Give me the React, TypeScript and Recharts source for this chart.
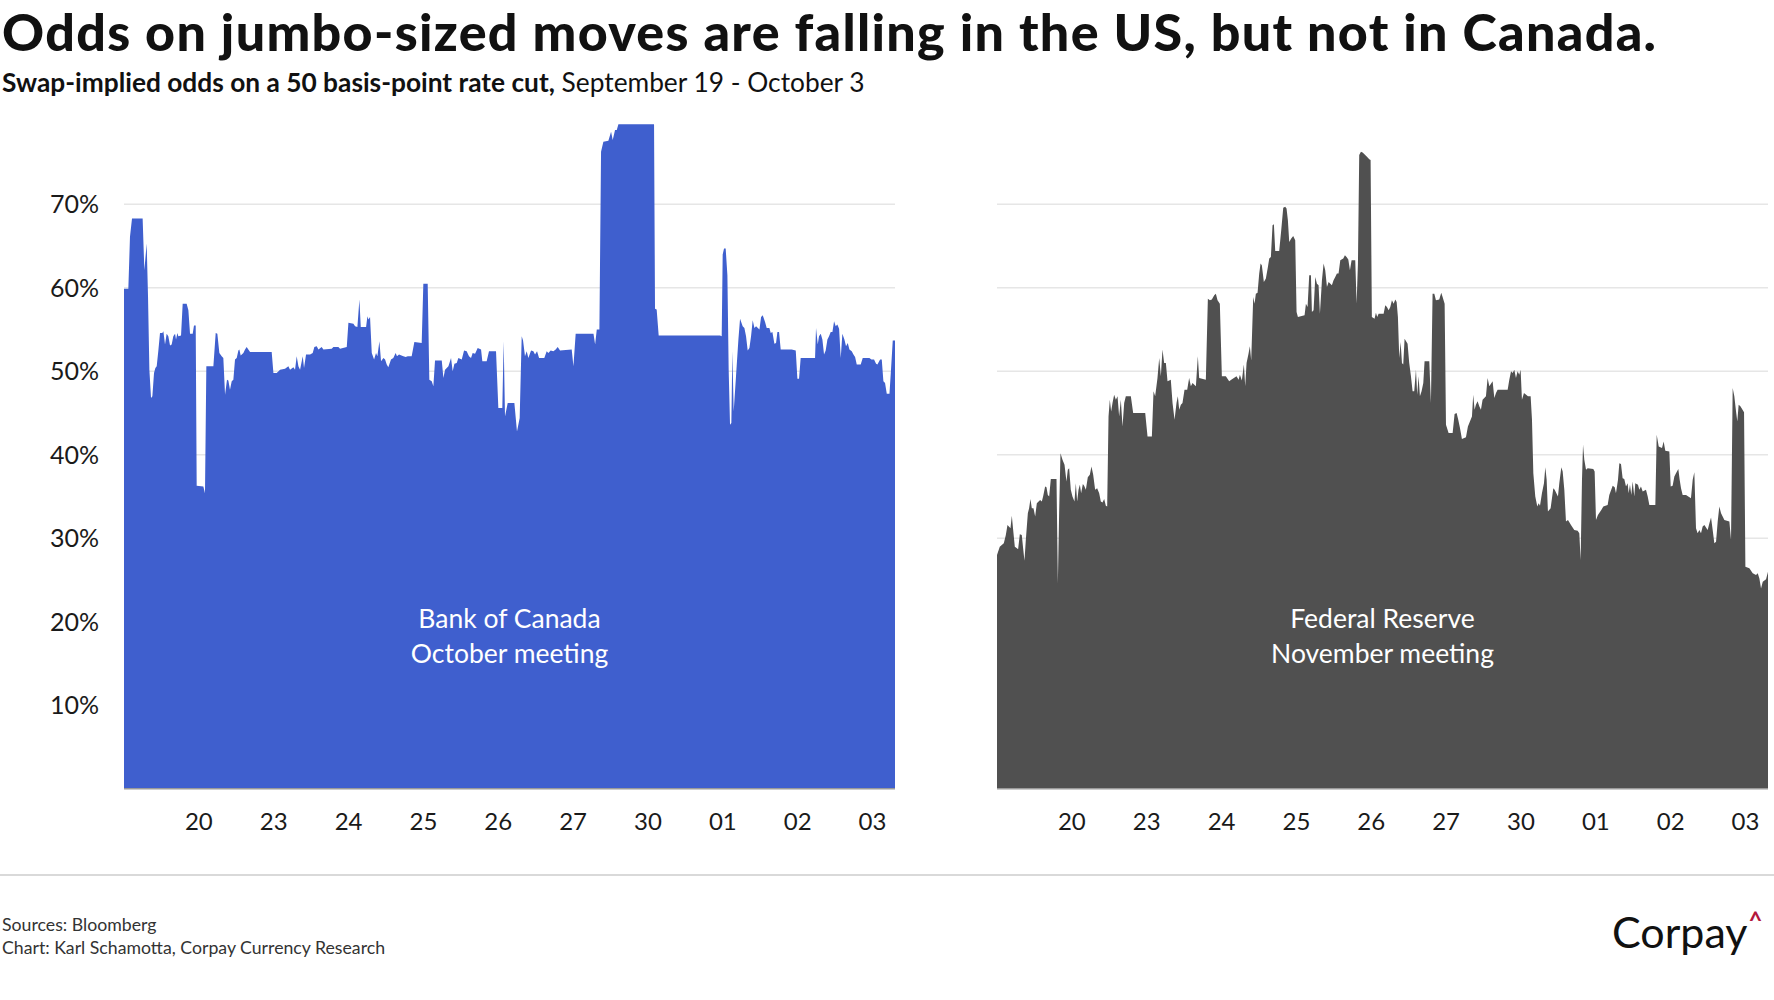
import React from "react";
import { AreaChart, Area, XAxis, YAxis, CartesianGrid } from "recharts";

// x = trading days since the start of Sep 19 (one unit per session)
const DAY_TICKS = [1, 2, 3, 4, 5, 6, 7, 8, 9, 10];
const DAY_LABELS = ["20", "23", "24", "25", "26", "27", "30", "01", "02", "03"];
const PCT_TICKS = [10, 20, 30, 40, 50, 60, 70];

// Bank of Canada, October meeting: [day, odds %]
const BOC_ODDS: [number, number][] = [
  [0, 59.9], [0.058, 59.9], [0.08, 66.1], [0.107, 68.3], [0.249, 68.3], [0.272, 62.1], [0.303, 65.3], [0.321, 58.9],
  [0.339, 50.2], [0.361, 46.8], [0.379, 47.0], [0.401, 49.8], [0.419, 50.4], [0.437, 50.6], [0.459, 52.5], [0.481, 54.6],
  [0.512, 54.6], [0.526, 54.8], [0.548, 53.2], [0.57, 54.5], [0.592, 54.2], [0.615, 53.1], [0.637, 53.2], [0.659, 54.2],
  [0.682, 54.5], [0.695, 53.8], [0.713, 54.6], [0.726, 54.2], [0.762, 54.3], [0.784, 58.1], [0.837, 58.1], [0.86, 57.3],
  [0.882, 54.5], [0.918, 54.5], [0.935, 55.5], [0.958, 55.5], [0.971, 36.3], [1.06, 36.2], [1.082, 35.4], [1.1, 50.6],
  [1.194, 50.6], [1.225, 54.6], [1.247, 54.5], [1.274, 52.2], [1.305, 51.8], [1.327, 51.6], [1.35, 47.2], [1.376, 49.0],
  [1.394, 48.9], [1.416, 47.8], [1.439, 48.8], [1.461, 49.0], [1.483, 51.4], [1.506, 51.6], [1.528, 52.5], [1.541, 52.6],
  [1.559, 51.9], [1.595, 52.2], [1.617, 52.6], [1.639, 52.9], [1.661, 52.6], [1.684, 52.3], [1.973, 52.3], [1.996, 49.8],
  [2.04, 49.8], [2.085, 50.2], [2.151, 50.3], [2.196, 50.6], [2.218, 50.2], [2.263, 50.5], [2.285, 50.2], [2.307, 51.8],
  [2.33, 50.6], [2.352, 50.2], [2.388, 51.8], [2.405, 50.4], [2.432, 52.0], [2.486, 52.0], [2.521, 52.2], [2.543, 52.9],
  [2.575, 53.0], [2.597, 52.6], [2.641, 52.9], [2.664, 52.6], [2.775, 52.7], [2.797, 52.9], [2.864, 52.9], [2.886, 52.7],
  [2.976, 52.9], [2.998, 55.8], [3.065, 55.7], [3.087, 55.4], [3.118, 55.3], [3.145, 58.6], [3.163, 55.3], [3.234, 55.3],
  [3.252, 56.6], [3.265, 56.2], [3.287, 56.5], [3.31, 52.2], [3.341, 51.4], [3.367, 52.2], [3.385, 51.8], [3.412, 53.6],
  [3.434, 51.2], [3.466, 51.6], [3.488, 51.4], [3.51, 50.8], [3.531, 50.5], [3.567, 51.4], [3.598, 51.6], [3.629, 52.2],
  [3.647, 51.8], [3.674, 52.0], [3.732, 51.8], [3.763, 51.7], [3.79, 51.8], [3.843, 51.8], [3.879, 53.5], [3.977, 53.4],
  [3.999, 60.5], [4.057, 60.5], [4.079, 49.0], [4.111, 48.8], [4.133, 48.2], [4.155, 51.3], [4.245, 51.3], [4.267, 49.2],
  [4.289, 50.2], [4.334, 50.6], [4.369, 51.6], [4.391, 50.0], [4.414, 50.9], [4.445, 51.0], [4.467, 51.6], [4.512, 51.4],
  [4.543, 52.5], [4.578, 52.4], [4.609, 51.8], [4.636, 51.6], [4.658, 52.2], [4.69, 52.1], [4.725, 52.8], [4.77, 52.6],
  [4.787, 51.2], [4.845, 51.2], [4.876, 52.4], [4.97, 52.4], [5.001, 45.6], [5.054, 45.6], [5.072, 53.6], [5.09, 44.6],
  [5.126, 46.2], [5.215, 46.2], [5.25, 42.8], [5.286, 44.4], [5.313, 54.2], [5.331, 53.7], [5.357, 51.8], [5.38, 52.4],
  [5.402, 51.6], [5.438, 52.5], [5.469, 52.4], [5.491, 52.0], [5.518, 52.4], [5.545, 51.6], [5.615, 51.6], [5.647, 52.4],
  [5.669, 52.2], [5.7, 52.5], [5.736, 52.4], [5.767, 52.6], [5.794, 52.9], [5.825, 52.5], [5.981, 52.6], [6.004, 50.6],
  [6.034, 54.5], [6.272, 54.5], [6.294, 53.2], [6.316, 55.0], [6.351, 55.0], [6.373, 76.3], [6.404, 77.5], [6.471, 77.6],
  [6.507, 78.7], [6.529, 77.7], [6.56, 78.9], [6.583, 78.9], [6.605, 79.6], [7.081, 79.6], [7.094, 57.5], [7.116, 57.4],
  [7.143, 54.3], [7.962, 54.3], [7.985, 54.2], [7.998, 64.0], [8.016, 64.7], [8.038, 64.7], [8.061, 61.5], [8.078, 50.2],
  [8.096, 43.6], [8.114, 43.8], [8.127, 52.4], [8.145, 45.2], [8.176, 49.4], [8.208, 53.8], [8.23, 56.3], [8.265, 55.4],
  [8.288, 55.2], [8.31, 54.2], [8.332, 52.5], [8.355, 52.8], [8.377, 54.2], [8.399, 56.1], [8.422, 55.2], [8.444, 55.4],
  [8.489, 55.0], [8.511, 56.5], [8.533, 56.7], [8.564, 55.9], [8.586, 55.2], [8.622, 55.2], [8.64, 54.6], [8.662, 54.7],
  [8.689, 53.3], [8.711, 53.4], [8.729, 54.7], [8.751, 54.7], [8.773, 52.6], [8.92, 52.6], [8.974, 52.5], [8.996, 49.1],
  [9.018, 49.1], [9.04, 51.6], [9.232, 51.6], [9.245, 55.2], [9.268, 53.2], [9.285, 54.2], [9.308, 54.5], [9.33, 53.8],
  [9.352, 52.0], [9.374, 52.5], [9.397, 53.8], [9.419, 54.2], [9.441, 54.7], [9.464, 54.7], [9.486, 56.0], [9.508, 55.4],
  [9.53, 55.6], [9.553, 55.1], [9.575, 51.6], [9.597, 54.5], [9.624, 53.8], [9.646, 53.0], [9.669, 53.4], [9.691, 52.6],
  [9.722, 52.4], [9.745, 52.0], [9.767, 51.7], [9.789, 50.8], [9.842, 50.8], [9.869, 51.6], [9.958, 51.6], [9.985, 51.4],
  [10.02, 51.4], [10.047, 50.9], [10.065, 50.8], [10.101, 51.4], [10.123, 51.4], [10.145, 48.8], [10.167, 48.6], [10.19, 47.3],
  [10.226, 47.3], [10.244, 49.8], [10.27, 53.7], [10.3, 53.7],
];

// Federal Reserve, November meeting: [day, odds %]
const FED_ODDS: [number, number][] = [
  [0, 28.0], [0.037, 29.0], [0.064, 29.2], [0.091, 29.4], [0.118, 30.4], [0.14, 31.6], [0.18, 31.2], [0.198, 32.7],
  [0.216, 31.0], [0.238, 29.0], [0.282, 28.7], [0.305, 30.5], [0.331, 30.4], [0.349, 28.8], [0.367, 27.3], [0.385, 29.8],
  [0.412, 33.0], [0.429, 33.6], [0.447, 34.7], [0.465, 33.6], [0.487, 33.6], [0.51, 32.6], [0.532, 34.2], [0.576, 34.6],
  [0.599, 34.4], [0.616, 35.0], [0.643, 36.2], [0.661, 36.1], [0.679, 35.2], [0.697, 35.0], [0.719, 37.1], [0.795, 37.1],
  [0.813, 24.6], [0.83, 33.0], [0.848, 40.2], [0.875, 39.4], [0.902, 38.8], [0.928, 36.8], [0.946, 38.2], [0.964, 38.4],
  [0.986, 35.8], [1.008, 35.0], [1.035, 34.4], [1.053, 36.6], [1.071, 34.4], [1.089, 35.8], [1.107, 36.4], [1.124, 35.4],
  [1.147, 36.5], [1.164, 36.3], [1.187, 35.8], [1.213, 37.3], [1.24, 37.6], [1.262, 38.6], [1.285, 37.6], [1.311, 35.8],
  [1.338, 36.0], [1.365, 35.4], [1.387, 34.4], [1.409, 34.3], [1.432, 34.7], [1.454, 33.9], [1.472, 33.8], [1.49, 44.6],
  [1.507, 46.6], [1.525, 45.2], [1.543, 46.2], [1.565, 47.2], [1.588, 46.6], [1.61, 47.0], [1.632, 44.6], [1.654, 46.6],
  [1.677, 43.4], [1.699, 46.2], [1.721, 47.0], [1.788, 47.0], [1.819, 45.0], [1.98, 45.0], [2.011, 42.2], [2.069, 42.2],
  [2.091, 47.6], [2.113, 47.0], [2.144, 49.2], [2.167, 51.6], [2.189, 49.4], [2.211, 52.6], [2.233, 51.0], [2.256, 51.0],
  [2.278, 48.8], [2.322, 49.0], [2.345, 46.2], [2.372, 44.2], [2.398, 46.2], [2.416, 47.0], [2.434, 45.4], [2.456, 46.0],
  [2.478, 46.2], [2.505, 47.8], [2.541, 47.8], [2.567, 49.2], [2.59, 48.2], [2.612, 48.6], [2.657, 48.2], [2.683, 51.8],
  [2.701, 49.2], [2.79, 49.0], [2.817, 58.7], [2.844, 58.5], [2.87, 58.6], [2.902, 59.1], [2.924, 59.3], [2.946, 58.5],
  [2.977, 58.1], [3.004, 49.4], [3.057, 49.4], [3.102, 48.8], [3.129, 49.0], [3.2, 49.4], [3.227, 49.0], [3.245, 49.6],
  [3.271, 48.9], [3.298, 50.8], [3.316, 48.2], [3.334, 51.0], [3.36, 52.1], [3.378, 53.0], [3.396, 51.3], [3.423, 58.9],
  [3.441, 58.1], [3.458, 59.3], [3.481, 59.4], [3.503, 61.7], [3.521, 62.9], [3.538, 62.7], [3.565, 60.7], [3.592, 61.1],
  [3.619, 62.5], [3.637, 63.5], [3.659, 63.7], [3.681, 67.5], [3.699, 67.6], [3.717, 64.4], [3.77, 64.4], [3.797, 66.9],
  [3.824, 69.6], [3.85, 69.7], [3.868, 69.5], [3.886, 68.1], [3.904, 65.5], [3.931, 65.9], [3.957, 66.2], [3.984, 65.7],
  [4.002, 57.1], [4.02, 56.5], [4.109, 56.7], [4.127, 58.1], [4.149, 57.7], [4.171, 61.5], [4.194, 61.5], [4.207, 57.1],
  [4.229, 57.3], [4.252, 61.3], [4.274, 60.5], [4.296, 60.3], [4.314, 56.9], [4.341, 60.9], [4.363, 62.9], [4.385, 62.1],
  [4.408, 60.1], [4.43, 60.7], [4.474, 60.3], [4.496, 60.9], [4.519, 61.3], [4.541, 61.7], [4.563, 61.7], [4.586, 63.3],
  [4.626, 63.5], [4.648, 63.9], [4.67, 63.7], [4.693, 63.4], [4.715, 62.1], [4.737, 63.3], [4.786, 63.3], [4.804, 58.1],
  [4.822, 62.9], [4.839, 75.9], [4.862, 76.3], [4.884, 76.2], [4.929, 75.8], [4.973, 75.4], [4.991, 75.3], [5.008, 56.5],
  [5.044, 56.3], [5.062, 57.0], [5.08, 56.5], [5.098, 56.9], [5.165, 56.9], [5.187, 57.9], [5.209, 57.7], [5.232, 57.3],
  [5.254, 57.7], [5.276, 58.5], [5.299, 58.1], [5.321, 58.6], [5.339, 58.3], [5.356, 56.5], [5.374, 51.6], [5.392, 53.5],
  [5.41, 51.0], [5.427, 50.8], [5.445, 53.9], [5.485, 53.3], [5.507, 51.0], [5.53, 49.4], [5.552, 47.6], [5.574, 47.6],
  [5.597, 50.2], [5.614, 47.2], [5.632, 49.4], [5.65, 47.0], [5.672, 47.6], [5.695, 48.6], [5.712, 51.2], [5.775, 51.2],
  [5.797, 46.2], [5.819, 59.3], [5.842, 59.3], [5.864, 58.5], [5.908, 58.6], [5.935, 59.4], [5.953, 58.9], [5.98, 58.1],
  [5.998, 43.6], [6.033, 42.6], [6.087, 42.6], [6.113, 44.9], [6.14, 45.0], [6.162, 44.2], [6.185, 43.2], [6.211, 41.9],
  [6.265, 42.1], [6.291, 43.4], [6.318, 44.0], [6.345, 44.6], [6.362, 47.2], [6.38, 45.4], [6.398, 46.0], [6.42, 46.4],
  [6.443, 45.8], [6.465, 45.4], [6.487, 46.6], [6.532, 47.0], [6.554, 49.2], [6.577, 48.2], [6.621, 48.8], [6.644, 46.8],
  [6.666, 47.4], [6.688, 47.8], [6.822, 47.8], [6.844, 49.0], [6.867, 50.0], [6.889, 49.8], [6.911, 50.2], [6.933, 49.2],
  [6.955, 50.0], [6.977, 49.6], [6.995, 50.2], [7.013, 46.6], [7.04, 47.4], [7.093, 47.0], [7.129, 47.0], [7.147, 44.2],
  [7.165, 37.8], [7.191, 35.0], [7.218, 33.8], [7.236, 34.2], [7.254, 33.9], [7.28, 35.4], [7.307, 36.6], [7.325, 38.5],
  [7.343, 37.0], [7.36, 33.2], [7.396, 33.6], [7.414, 34.8], [7.432, 36.0], [7.45, 35.8], [7.494, 35.0], [7.512, 36.6],
  [7.539, 38.5], [7.557, 38.0], [7.579, 35.8], [7.601, 32.0], [7.628, 32.2], [7.668, 31.6], [7.712, 31.0], [7.757, 30.9],
  [7.779, 30.6], [7.797, 27.4], [7.815, 37.0], [7.829, 41.2], [7.846, 39.4], [7.869, 38.2], [7.891, 38.4], [7.966, 38.3],
  [7.984, 38.0], [8.002, 32.2], [8.028, 32.8], [8.073, 33.4], [8.1, 33.8], [8.158, 34.0], [8.18, 35.2], [8.225, 36.3],
  [8.252, 36.1], [8.269, 35.4], [8.296, 37.0], [8.314, 39.0], [8.336, 38.9], [8.358, 37.2], [8.38, 37.1], [8.403, 36.2],
  [8.425, 36.6], [8.438, 35.4], [8.456, 36.4], [8.474, 35.2], [8.492, 36.8], [8.514, 35.0], [8.527, 36.6], [8.563, 36.4],
  [8.581, 35.8], [8.603, 36.2], [8.626, 35.6], [8.67, 35.8], [8.693, 35.0], [8.715, 34.0], [8.795, 34.0], [8.813, 42.4],
  [8.84, 41.0], [8.884, 40.8], [8.906, 41.6], [8.928, 40.5], [8.982, 40.4], [9.0, 36.2], [9.026, 36.3], [9.049, 37.4],
  [9.071, 37.8], [9.102, 38.3], [9.12, 37.0], [9.138, 36.0], [9.16, 35.2], [9.205, 35.2], [9.271, 34.8], [9.294, 37.0],
  [9.316, 37.9], [9.338, 31.2], [9.36, 30.6], [9.383, 31.0], [9.405, 30.6], [9.427, 31.4], [9.45, 31.6], [9.494, 31.0],
  [9.517, 31.8], [9.539, 32.5], [9.561, 31.0], [9.583, 29.4], [9.606, 29.6], [9.628, 32.0], [9.65, 33.8], [9.673, 33.0],
  [9.717, 32.2], [9.784, 32.0], [9.806, 29.8], [9.828, 48.0], [9.85, 47.0], [9.873, 45.2], [9.89, 44.0], [9.908, 46.0],
  [9.931, 45.8], [9.98, 45.1], [9.998, 26.6], [10.051, 26.4], [10.096, 25.8], [10.14, 25.6], [10.163, 25.8], [10.185, 25.2],
  [10.207, 24.0], [10.23, 24.8], [10.274, 25.1], [10.3, 26.0],
];

const FONT = "Lato, 'Open Sans', sans-serif";
const BLUE = "#3f5fce";
const GREY = "#505050";

const toRows = (pairs: [number, number][]) => pairs.map(([t, v]) => ({ t, v }));

function OddsPanel({
  data,
  color,
  left,
  withAxis,
  label,
}: {
  data: [number, number][];
  color: string;
  left: number;
  withAxis: boolean;
  label: string[];
}) {
  const width = withAxis ? 895 : 771;
  const plotLeft = withAxis ? 124 : 0;
  return (
    <div style={{ position: "absolute", left, top: 0, width, height: 850 }}>
      <AreaChart
        width={width}
        height={850}
        data={toRows(data)}
        margin={{ top: 120.8, right: 0, bottom: 0, left: 0 }}
      >
        <CartesianGrid vertical={false} horizontalValues={PCT_TICKS} stroke="#e6e6e6" strokeWidth={1.5} />
        <XAxis
          dataKey="t"
          type="number"
          domain={[0, 10.3]}
          ticks={DAY_TICKS}
          tickFormatter={(t: number) => DAY_LABELS[t - 1]}
          height={61.2}
          tickLine={false}
          tickSize={0}
          tickMargin={24}
          axisLine={{ stroke: "#9a9a9a", strokeWidth: 1.5 }}
          tick={{ fill: "#1a1a1a", fontSize: 24, fontFamily: FONT }}
          allowDataOverflow
        />
        <YAxis
          type="number"
          domain={[0, 80]}
          ticks={PCT_TICKS}
          hide={!withAxis}
          width={124}
          tickLine={false}
          axisLine={false}
          tickSize={0}
          tickMargin={25}
          tickFormatter={(v: number) => `${v}%`}
          tick={{ fill: "#1a1a1a", fontSize: 25, fontFamily: FONT }}
        />
        <Area
          type="linear"
          dataKey="v"
          stroke="none"
          fill={color}
          fillOpacity={1}
          dot={false}
          activeDot={false}
          isAnimationActive={false}
        />
      </AreaChart>
      <div
        style={{
          position: "absolute",
          left: plotLeft,
          width: width - plotLeft,
          top: 601,
          textAlign: "center",
          color: "#ffffff",
          fontFamily: FONT,
          fontSize: 26.5,
          lineHeight: "35px",
        }}
      >
        {label.map((line) => (
          <div key={line}>{line}</div>
        ))}
      </div>
    </div>
  );
}

export default function App() {
  return (
    <div
      style={{
        position: "absolute",
        left: 0,
        top: 0,
        width: 1774,
        height: 1000,
        background: "#ffffff",
        fontFamily: FONT,
        color: "#111",
        overflow: "hidden",
      }}
    >
      <div
        style={{
          position: "absolute",
          left: 2,
          top: 5,
          fontSize: 52,
          fontWeight: 900,
          letterSpacing: 1.3,
          lineHeight: 1,
          whiteSpace: "nowrap",
        }}
      >
        Odds on jumbo-sized moves are falling in the US, but not in Canada.
      </div>
      <div style={{ position: "absolute", left: 2, top: 69, fontSize: 26.3, lineHeight: 1, whiteSpace: "nowrap" }}>
        <span style={{ fontWeight: 700 }}>Swap-implied odds on a 50 basis-point rate cut,</span> September 19 - October 3
      </div>

      <OddsPanel data={BOC_ODDS} color={BLUE} left={0} withAxis label={["Bank of Canada", "October meeting"]} />
      <OddsPanel data={FED_ODDS} color={GREY} left={997} withAxis={false} label={["Federal Reserve", "November meeting"]} />

      <div style={{ position: "absolute", left: 0, top: 874, width: 1774, height: 2, background: "#d9d9d9" }} />
      <div style={{ position: "absolute", left: 2, top: 913, fontSize: 17.7, lineHeight: "23px", color: "#333" }}>
        <div>Sources: Bloomberg</div>
        <div>Chart: Karl Schamotta, Corpay Currency Research</div>
      </div>
      <div
        style={{
          position: "absolute",
          left: 1612,
          top: 910,
          fontSize: 43,
          fontWeight: 400,
          lineHeight: 1,
          color: "#111",
          whiteSpace: "nowrap",
        }}
      >
        Corpay
        <span style={{ position: "relative", top: -18, fontSize: 24, fontWeight: 700, color: "#b3173c", marginLeft: 1 }}>^</span>
      </div>
    </div>
  );
}
